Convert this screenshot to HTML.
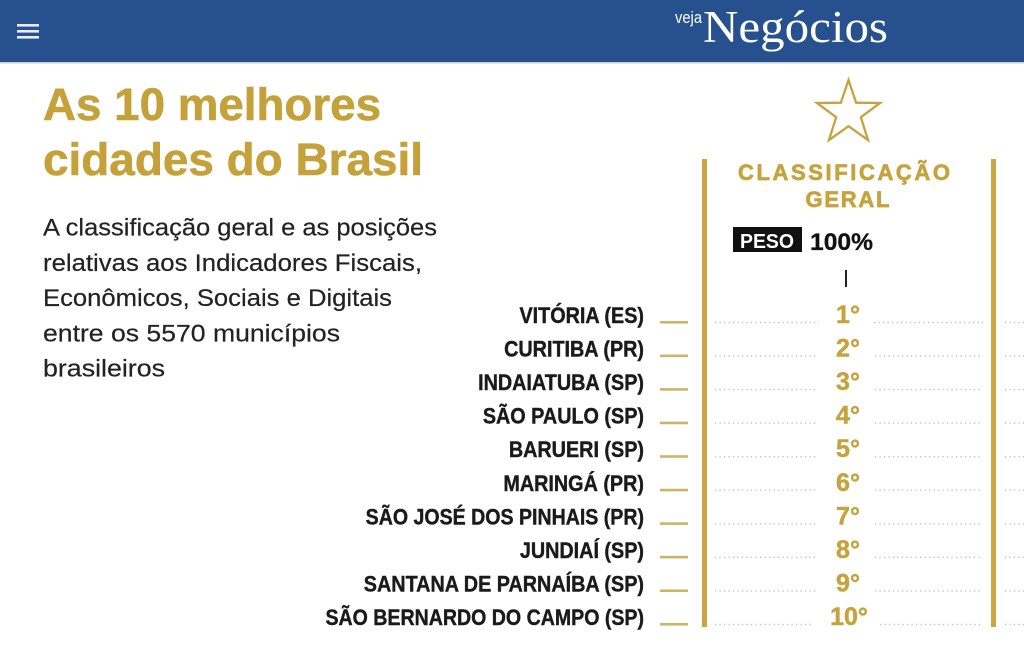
<!DOCTYPE html>
<html>
<head>
<meta charset="utf-8">
<style>
  html,body{margin:0;padding:0;background:#fff;}
  svg{display:block;}
  .sans{font-family:"Liberation Sans",sans-serif;}
  .serif{font-family:"Liberation Serif",serif;}
</style>
</head>
<body>
<svg width="1024" height="660" viewBox="0 0 1024 660" xmlns="http://www.w3.org/2000/svg">
  <rect x="0" y="0" width="1024" height="660" fill="#ffffff"/>
  <!-- header -->
  <rect x="0" y="0" width="1024" height="62" fill="#27518e"/>
  <rect x="0" y="62" width="1024" height="1.5" fill="#c5cedb"/>
  <rect x="17" y="24" width="22" height="2.6" fill="#e8eef7"/>
  <rect x="17" y="30" width="22" height="2.6" fill="#e8eef7"/>
  <rect x="17" y="36" width="22" height="2.6" fill="#e8eef7"/>
  <text class="sans" x="675" y="23" font-size="17" fill="#ffffff" textLength="27" lengthAdjust="spacingAndGlyphs">veja</text>
  <text class="serif" x="703" y="42" font-size="45" fill="#ffffff" textLength="185" lengthAdjust="spacingAndGlyphs">Negócios</text>

  <!-- title -->
  <g class="sans" font-size="45" font-weight="bold" fill="#c5a13a" stroke="#c5a13a" stroke-width="0.6">
    <text x="43" y="120" textLength="338" lengthAdjust="spacingAndGlyphs">As 10 melhores</text>
    <text x="43" y="175" textLength="380" lengthAdjust="spacingAndGlyphs">cidades do Brasil</text>
  </g>

  <!-- subtitle -->
  <g class="sans" font-size="24" fill="#222222" stroke="#222222" stroke-width="0.2">
    <text x="43" y="235.5" textLength="394" lengthAdjust="spacingAndGlyphs">A classificação geral e as posições</text>
    <text x="43" y="270.8" textLength="379" lengthAdjust="spacingAndGlyphs">relativas aos Indicadores Fiscais,</text>
    <text x="43" y="306" textLength="349" lengthAdjust="spacingAndGlyphs">Econômicos, Sociais e Digitais</text>
    <text x="43" y="341.3" textLength="297" lengthAdjust="spacingAndGlyphs">entre os 5570 municípios</text>
    <text x="43" y="376.6" textLength="122" lengthAdjust="spacingAndGlyphs">brasileiros</text>
  </g>

  <!-- star -->
  <polygon points="848.5,80 856.14,102.68 880.08,102.94 860.86,117.22 868.01,140.06 848.5,126.2 828.99,140.06 836.14,117.22 816.92,102.94 840.86,102.68"
           fill="none" stroke="#c6a33c" stroke-width="2.3" stroke-linejoin="miter"/>

  <!-- column header -->
  <g class="sans" font-weight="bold" fill="#c6a33c" stroke="#c6a33c" stroke-width="0.7" text-anchor="middle">
    <text x="844" y="180" font-size="22" textLength="212" lengthAdjust="spacing">CLASSIFICAÇÃO</text>
    <text x="847.5" y="207" font-size="22" textLength="84" lengthAdjust="spacing">GERAL</text>
  </g>
  <rect x="733" y="227" width="69" height="25" fill="#111111"/>
  <text class="sans" x="740" y="248" font-size="20" font-weight="bold" fill="#ffffff" textLength="54" lengthAdjust="spacingAndGlyphs">PESO</text>
  <text class="sans" x="810" y="250" font-size="24" font-weight="bold" fill="#111111" stroke="#111111" stroke-width="0.3" textLength="63" lengthAdjust="spacingAndGlyphs">100%</text>
  <rect x="845" y="270" width="2" height="17" fill="#222222"/>

  <!-- vertical bars -->
  <rect x="702" y="159" width="5" height="468" fill="#c9a63f"/>
  <rect x="991" y="159" width="5" height="468" fill="#c9a63f"/>

  <!-- rows -->
  <g id="rows">
    <!-- city names -->
    <g class="sans" font-size="22" font-weight="bold" fill="#1a1a1a" stroke="#1a1a1a" stroke-width="0.4" text-anchor="end">
      <text transform="translate(644,323) scale(0.9,1)" x="0" y="0">VITÓRIA (ES)</text>
      <text transform="translate(644,356.55) scale(0.9,1)" x="0" y="0">CURITIBA (PR)</text>
      <text transform="translate(644,390.1) scale(0.9,1)" x="0" y="0">INDAIATUBA (SP)</text>
      <text transform="translate(644,423.65) scale(0.9,1)" x="0" y="0">SÃO PAULO (SP)</text>
      <text transform="translate(644,457.2) scale(0.9,1)" x="0" y="0">BARUERI (SP)</text>
      <text transform="translate(644,490.75) scale(0.9,1)" x="0" y="0">MARINGÁ (PR)</text>
      <text transform="translate(644,524.3) scale(0.89,1)" x="0" y="0">SÃO JOSÉ DOS PINHAIS (PR)</text>
      <text transform="translate(644,557.85) scale(0.9,1)" x="0" y="0">JUNDIAÍ (SP)</text>
      <text transform="translate(644,591.4) scale(0.9,1)" x="0" y="0">SANTANA DE PARNAÍBA (SP)</text>
      <text transform="translate(644,624.95) scale(0.89,1)" x="0" y="0">SÃO BERNARDO DO CAMPO (SP)</text>
    </g>
    <!-- gold dashes -->
    <g fill="#cdb566">
      <rect x="660" y="321" width="28" height="2.6"/>
      <rect x="660" y="354.55" width="28" height="2.6"/>
      <rect x="660" y="388.1" width="28" height="2.6"/>
      <rect x="660" y="421.65" width="28" height="2.6"/>
      <rect x="660" y="455.2" width="28" height="2.6"/>
      <rect x="660" y="488.75" width="28" height="2.6"/>
      <rect x="660" y="522.3" width="28" height="2.6"/>
      <rect x="660" y="555.85" width="28" height="2.6"/>
      <rect x="660" y="589.4" width="28" height="2.6"/>
      <rect x="660" y="622.95" width="28" height="2.6"/>
    </g>
    <!-- dotted lines -->
    <g stroke="#bdbdbd" stroke-width="1.4" stroke-dasharray="1.2 3.3" fill="none">
      <path d="M715 322.5H819 M874 322.5H983 M1005 322.5H1024"/>
      <path d="M715 356H818 M875 356H983 M1005 356H1024"/>
      <path d="M715 389.6H818 M875 389.6H983 M1005 389.6H1024"/>
      <path d="M715 423.1H818 M875 423.1H983 M1005 423.1H1024"/>
      <path d="M715 456.7H818 M875 456.7H983 M1005 456.7H1024"/>
      <path d="M715 490.2H818 M875 490.2H983 M1005 490.2H1024"/>
      <path d="M715 523.8H818 M875 523.8H983 M1005 523.8H1024"/>
      <path d="M715 557.3H818 M875 557.3H983 M1005 557.3H1024"/>
      <path d="M715 590.9H818 M875 590.9H983 M1005 590.9H1024"/>
      <path d="M715 624.4H812 M880 624.4H983 M1005 624.4H1024"/>
    </g>
    <!-- ranks -->
    <g class="sans" font-size="25" font-weight="bold" fill="#c6a33c" stroke="#c6a33c" stroke-width="0.5" text-anchor="middle">
      <text x="848" y="323">1°</text>
      <text x="848" y="356.55">2°</text>
      <text x="848" y="390.1">3°</text>
      <text x="848" y="423.65">4°</text>
      <text x="848" y="457.2">5°</text>
      <text x="848" y="490.75">6°</text>
      <text x="848" y="524.3">7°</text>
      <text x="848" y="557.85">8°</text>
      <text x="848" y="591.4">9°</text>
      <text x="849" y="624.95">10°</text>
    </g>
  </g>
</svg>
</body>
</html>
